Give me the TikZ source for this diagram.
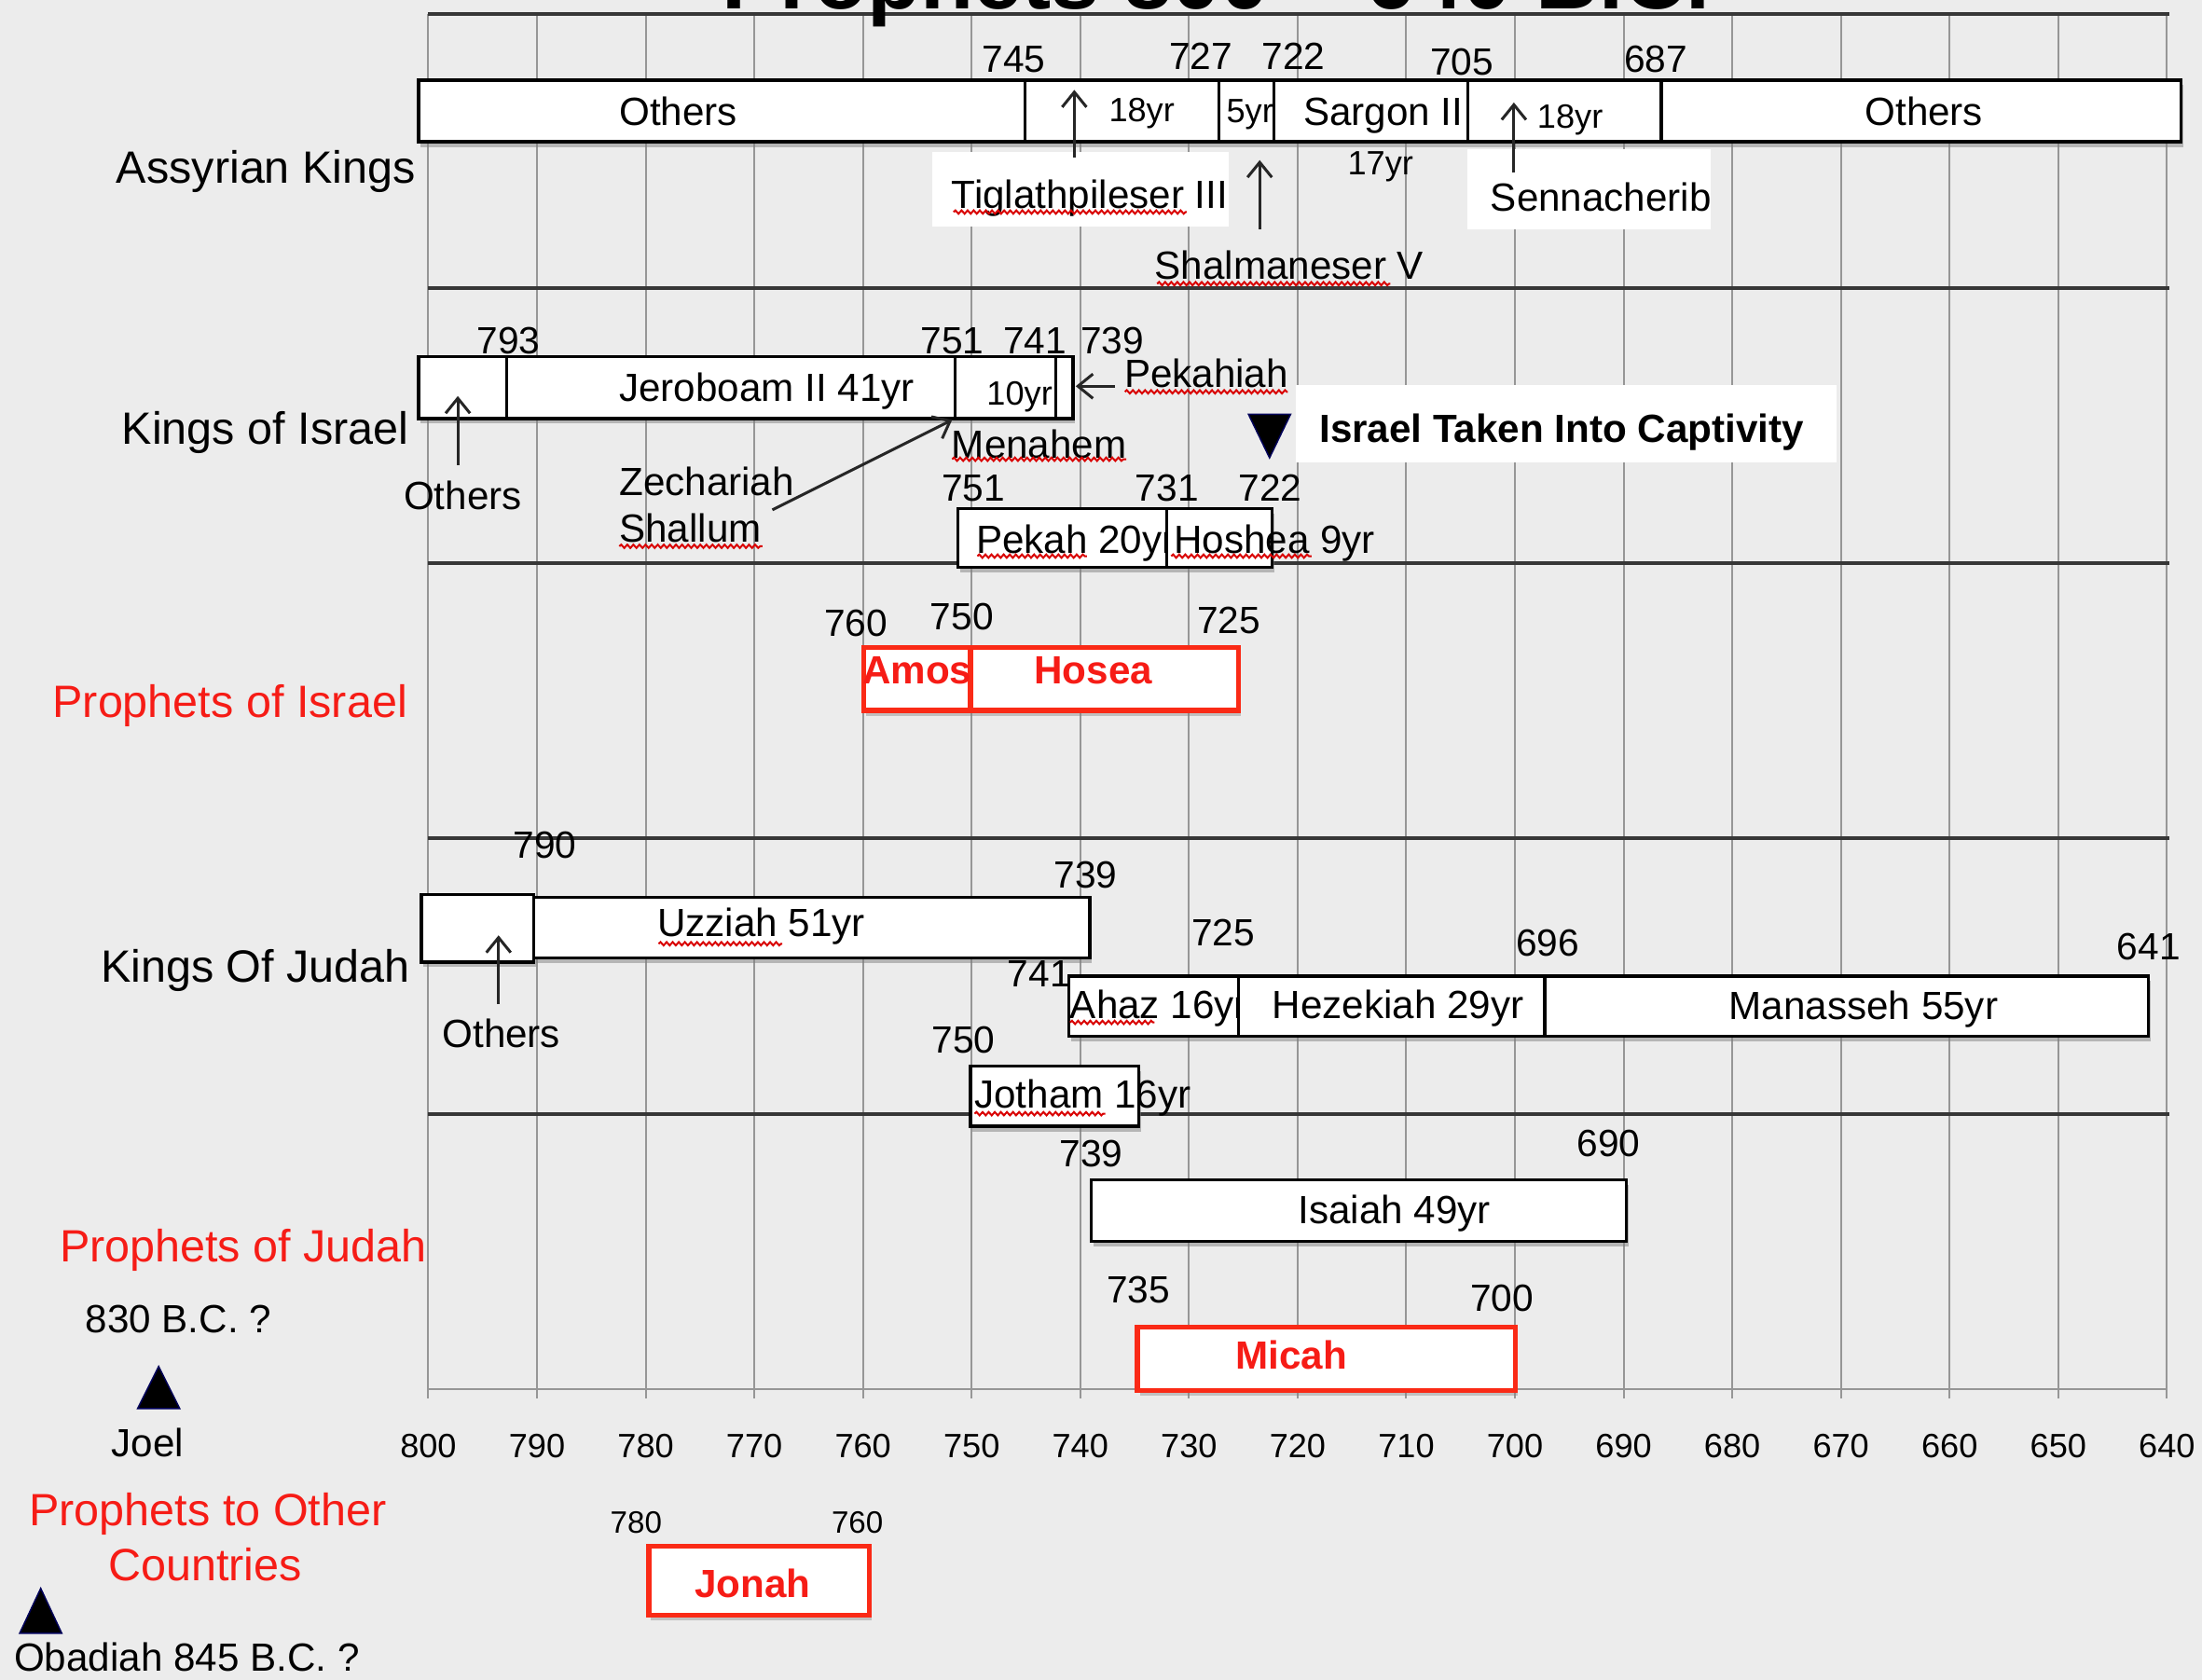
\documentclass[tikz,border=0pt]{standalone}
\usepackage{fontspec}
\setmainfont{Liberation Sans}
\usetikzlibrary{fit,shadows,decorations.pathmorphing,arrows.meta}
\definecolor{bgc}{RGB}{236,236,236}
\definecolor{myred}{RGB}{246,28,22}
\definecolor{boxred}{RGB}{250,42,22}
\definecolor{gridc}{RGB}{150,150,150}
\definecolor{sepc}{RGB}{55,55,55}
\begin{document}
\begin{tikzpicture}[x=0.15mm,y=-0.15mm,
 every node/.style={inner sep=0pt, outer sep=0pt},
 fA/.style={font=\fontsize{11.95}{14}\selectfont, text height=8.6pt, text depth=0pt},
 fY/.style={font=\fontsize{11.52}{14}\selectfont, text height=8.3pt, text depth=0pt},
 fS/.style={font=\fontsize{10.24}{12}\selectfont, text height=7.35pt, text depth=0pt},
 fT/.style={font=\fontsize{9.39}{11}\selectfont, text height=6.75pt, text depth=0pt},
 fL/.style={font=\fontsize{13.75}{16}\selectfont, text height=9.85pt, text depth=0pt},
 fB/.style={font=\bfseries\fontsize{11.95}{14}\selectfont, text height=8.6pt, text depth=0pt},
 kbox/.style={draw=black, line width=0.33mm, fill=white,
   drop shadow={shadow xshift=0.25mm, shadow yshift=-0.55mm, opacity=0.5}},
 pbox/.style={draw=boxred, line width=0.55mm, fill=white,
   drop shadow={shadow xshift=0.25mm, shadow yshift=-0.55mm, opacity=0.4}},
 bgbox/.style={fill=white},
 arr/.style={draw=black!85, line width=0.3mm, -{Straight Barb[length=1.6mm,width=2.6mm]}},
 squig/.style={draw=red!85!black, line width=0.2mm, decorate,
   decoration={snake, amplitude=0.18mm, segment length=0.65mm}},
 gridv/.style={draw=gridc, line width=0.2mm},
 seph/.style={draw=sepc, line width=0.4mm},
 tri/.style={fill=black, draw=blue!35!black, line width=0.15mm},
]
\useasboundingbox (0,0) rectangle (1568,1196);
\clip (0,0) rectangle (1568,1196);
\fill[bgc] (0,0) rectangle (1568,1196);

% grid
\foreach \i in {0,...,16}{\draw[gridv] ({305+\i*77.375},10) -- ({305+\i*77.375},996);}
\foreach \yy in {10,205,401,597,793}{\draw[seph] (305,\yy) -- (1545,\yy);}
\draw[gridv] (305,989) -- (1543,989);
\foreach \yr [count=\i from 0] in {800,790,...,640}{\node[fS] (ax\yr) at ({305+\i*77.375},1029) {\yr};}

% title
\node[font=\bfseries\fontsize{26.5}{30}\selectfont, anchor=base] (title) at (866,6) {Prophets 800 – 640 B.C.};

% left labels
\node[fL, anchor=east] (lAss) at (296,119) {Assyrian Kings};
\node[fL, anchor=east] (lKI) at (291,305) {Kings of Israel};
\node[fL, anchor=east, text=myred] (lPI) at (290,499) {Prophets of Israel};
\node[fL, anchor=east] (lKJ) at (292,688) {Kings Of Judah};
\node[fL, anchor=east, text=myred] (lPJ) at (304,887) {Prophets of Judah};
\node[fA] (l830) at (127,939) {830 B.C. ?};
\draw[tri] (98,1003) -- (128,1003) -- (113,973) -- cycle;
\node[fA] (lJoel) at (105,1027) {Joel};
\node[fL, text=myred] (lPO1) at (148,1075) {Prophets to Other};
\node[fL, text=myred] (lPO2) at (146,1114) {Countries};
\draw[tri] (14,1163) -- (44,1163) -- (29,1131) -- cycle;
\node[fA, anchor=west] (lOba) at (10,1180) {Obadiah 845 B.C. ?};

% ---------- Assyrian kings
\node[kbox, fit={(298,57)(730,101)}] (aOthA) {};
\node[kbox, fit={(730,57)(868,101)}] (aTig) {};
\node[kbox, fit={(868,57)(907,101)}] (aSha) {};
\node[fS] (tSha) at (890,78.5) {5yr};
\node[kbox, fit={(907,57)(1045,101)}] (aSar) {};
\node[kbox, fit={(1045,57)(1183,101)}] (aSen) {};
\node[kbox, fit={(1183,57)(1553,101)}] (aOthB) {};
\node[fA] (tOthA) at (483,79) {Others};
\node[fS] (tTig) at (813,78) {18yr};
\node[fA] (tSar) at (985,79) {Sargon II};
\node[fS] (tSen) at (1118,83) {18yr};
\node[fA] (tOthB) at (1370,79) {Others};
\node[fY] (y745) at (722,41.5) {745};
\node[fY] (y727) at (855,39.5) {727};
\node[fY] (y722a) at (921,40) {722};
\node[fY] (y705) at (1041,44) {705};
\node[fY] (y687) at (1179,42) {687};
\node[fS] (y17) at (983,116) {17yr};
\node[bgbox, fit={(664,108)(875,161)}] (bgTig) {};
\node[fA] (lTig) at (776,138) {Tiglathpileser III};
\node[bgbox, fit={(1045,106)(1218,163)}] (bgSen) {};
\node[fA] (lSen) at (1140,140) {Sennacherib};
\node[fA] (lSha) at (918,189) {Shalmaneser V};
\coordinate (cTigA) at (765,112); \coordinate (cTigB) at (765,64);
\coordinate (cShaA) at (897,163); \coordinate (cShaB) at (897,114);
\coordinate (cSenA) at (1078,123); \coordinate (cSenB) at (1078,73);
\draw[arr] (cTigA) -- (cTigB);
\draw[arr] (cShaA) -- (cShaB);
\draw[arr] (cSenA) -- (cSenB);
\draw[squig] (679,151) -- (845,151);
\draw[squig] (824,202) -- (990,202);

% ---------- Kings of Israel
\node[kbox, fit={(298,254)(361,298)}] (iOth) {};
\node[kbox, fit={(361,254)(680,298)}] (iJer) {};
\node[kbox, fit={(680,254)(752,298)}] (iMen) {};
\node[kbox, fit={(752,254)(764,298)}] (iPkh) {};
\node[fA] (tJer) at (546,275.5) {Jeroboam II 41yr};
\node[fS] (tMen) at (726,280) {10yr};
\node[fY] (y793) at (362,242) {793};
\node[fY] (y751a) at (678,242) {751};
\node[fY] (y741a) at (737,242) {741};
\node[fY] (y739a) at (792,242) {739};
\node[fA] (lPkh) at (859,266) {Pekahiah};
\node[fA] (lMen) at (740,316.5) {Menahem};
\node[fA, anchor=west] (lZec) at (441,342.5) {Zechariah};
\node[fA, anchor=west] (lShal) at (441,376) {Shallum};
\node[fA] (lOthI) at (329.5,352.5) {Others};
\coordinate (cPkhA) at (794,275); \coordinate (cPkhB) at (766,275);
\coordinate (cZecA) at (550,363); \coordinate (cZecB) at (678,299);
\coordinate (cOthIA) at (326,331); \coordinate (cOthIB) at (326,282);
\draw[arr] (cPkhA) -- (cPkhB);
\draw[arr] (cZecA) -- (cZecB);
\draw[arr] (cOthIA) -- (cOthIB);
\node[fY] (y751b) at (693,347) {751};
\node[fY] (y731) at (831,347) {731};
\node[fY] (y722b) at (904.5,347) {722};
\node[kbox, fit={(682,362)(831,404)}] (iPek) {};
\node[fA] (tPek) at (766,384) {Pekah 20yr};
\node[kbox, fit={(831,362)(906,404)}] (iHos) {};
\node[fA, anchor=west] (tHos) at (836,384) {Hoshea 9yr};
\node[bgbox, fit={(923,274)(1308,329)}] (bgCap) {};
\draw[tri] (889,295) -- (919,295) -- (904,326) -- cycle;
\node[fB] (lCap) at (1112,305) {Israel Taken Into Captivity};
\draw[squig] (801,279) -- (917,279);
\draw[squig] (678,327) -- (802,327);
\draw[squig] (441,389) -- (543,389);
\draw[squig] (696,396) -- (774,396);
\draw[squig] (834,396) -- (934,396);

% ---------- Prophets of Israel
\node[pbox, fit={(615,461)(691,506)}] (pAmos) {};
\node[pbox, fit={(691,461)(882,506)}] (pHos) {};
\node[fB, text=myred] (tAmos) at (653,477) {Amos};
\node[fB, text=myred] (tHosea) at (778.5,477) {Hosea};
\node[fY] (y760a) at (609.5,443.5) {760};
\node[fY] (y750a) at (685,439) {750};
\node[fY] (y725a) at (875,441.5) {725};

% ---------- Kings of Judah
\node[kbox, fit={(300,637)(380,685)}] (jOth) {};
\node[kbox, fit={(380,639)(776,682)}] (jUzz) {};
\node[fA] (tUzz) at (542,657) {Uzziah 51yr};
\node[fY] (y790) at (388,601.5) {790};
\node[fY] (y739b) at (773,622.5) {739};
\node[fA] (lOthJ) at (357,736) {Others};
\coordinate (cOthJA) at (355,715); \coordinate (cOthJB) at (355,666);
\draw[arr] (cOthJA) -- (cOthJB);
\node[fY] (y741b) at (740,693) {741};
\node[fY] (y725b) at (871,664) {725};
\node[fY] (y696) at (1102,671) {696};
\node[fY] (y641) at (1530,674) {641};
\node[fY] (y750b) at (686,740) {750};
\node[kbox, fit={(761,695)(882,738)}] (jAhaz) {};
\node[fA, anchor=west] (tAhaz) at (762,715.5) {Ahaz 16yr};
\node[kbox, fit={(882,695)(1100,738)}] (jHez) {};
\node[kbox, fit={(1100,695)(1530,738)}] (jMan) {};
\node[fA] (tHez) at (995.5,715) {Hezekiah 29yr};
\node[fA] (tMan) at (1327,716) {Manasseh 55yr};
\node[kbox, fit={(691,759)(811,802)}] (jJot) {};
\node[fA, anchor=west] (tJot) at (694,779) {Jotham 16yr};
\draw[squig] (469,672) -- (557,672);
\draw[squig] (762,728) -- (822,728);
\draw[squig] (694,793) -- (787,793);

% ---------- Prophets of Judah
\node[fY] (y739c) at (777,821) {739};
\node[fY] (y690) at (1145.5,814) {690};
\node[kbox, fit={(777,840)(1158,884)}] (pIsa) {};
\node[fA] (tIsa) at (993,861) {Isaiah 49yr};
\node[fY] (y735) at (810.5,918) {735};
\node[fY] (y700) at (1069.5,924) {700};
\node[pbox, fit={(810,945)(1079,990)}] (pMic) {};
\node[fB, text=myred] (tMic) at (919.5,964.5) {Micah};

% ---------- Other countries
\node[fT] (y780) at (453,1084) {780};
\node[fT] (y760b) at (610.5,1084) {760};
\node[pbox, fit={(462,1101)(619,1150)}] (pJon) {};
\node[fB, text=myred] (tJon) at (536,1127.5) {Jonah};
\end{tikzpicture}
\end{document}
